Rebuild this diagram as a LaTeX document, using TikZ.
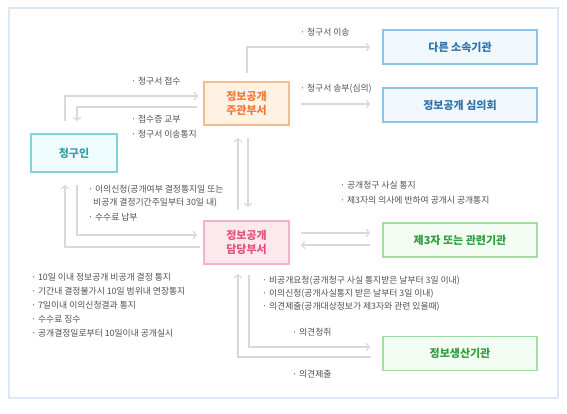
\documentclass[tikz,border=0pt]{standalone}
\usepackage{fontspec}
\setmainfont{Noto Sans CJK KR}
\usetikzlibrary{arrows.meta}
\definecolor{lineg}{HTML}{D9D9D9}
\definecolor{txtg}{HTML}{505050}
\definecolor{frameb}{HTML}{DCE8F5}
\definecolor{cyanB}{HTML}{7FD4DC}\definecolor{cyanF}{HTML}{EFFCFD}\definecolor{cyanT}{HTML}{3A9EAA}
\definecolor{orB}{HTML}{F5BB8E}\definecolor{orF}{HTML}{FFF2E3}\definecolor{orT}{HTML}{EE7A3E}
\definecolor{blB}{HTML}{8CC4E8}\definecolor{blF}{HTML}{F0F8FE}\definecolor{blT}{HTML}{2F72AA}
\definecolor{pkB}{HTML}{F7B2C4}\definecolor{pkF}{HTML}{FDE8EE}\definecolor{pkT}{HTML}{E8507C}
\definecolor{grB}{HTML}{A2E0A2}\definecolor{grF}{HTML}{F4FDF4}\definecolor{grT}{HTML}{2E9E3E}
\tikzset{
  box/.style={draw, line width=1.1pt, minimum width=#1, inner sep=0pt, align=center,
    font=\fontsize{11}{14}\selectfont\bfseries},
  cyanbox/.style={box=86pt, minimum height=38pt, draw=cyanB, fill=cyanF, text=cyanT},
  orbox/.style={box=85pt, minimum height=43pt, draw=orB, fill=orF, text=orT},
  pkbox/.style={box=85pt, minimum height=43pt, draw=pkB, fill=pkF, text=pkT},
  blbox/.style={box=154pt, minimum height=34pt, draw=blB, fill=blF, text=blT},
  grbox/.style={box=154pt, minimum height=34pt, draw=grB, fill=grF, text=grT},
  lbl/.style={anchor=west, inner sep=0pt, text=txtg, font=\fontsize{8.8}{10}\selectfont},
  conn/.style={draw=lineg, line width=1.4pt},
  arr/.style={conn, -{Straight Barb[length=3pt,width=7.5pt,line width=1.2pt]}},
}
\begin{document}
\begin{tikzpicture}[x=1pt,y=-1pt]
\useasboundingbox (0,0) rectangle (567,413);
\fill[white] (0,0) rectangle (567,413);
\draw[frameb, line width=2.4pt] (9,8) rectangle (558,398);

% boxes
\node[cyanbox] (req) at (74,153) {청구인};
\node[orbox] (main) at (246.5,103.5) {정보공개\\주관부서};
\node[blbox] (other) at (460,47) {다른 소속기관};
\node[blbox] (comm) at (460,105) {정보공개 심의회};
\node[pkbox] (resp) at (246.5,242.5) {정보공개\\담당부서};
\node[grbox] (third) at (460,240) {제3자 또는 관련기관};
\node[grbox] (prod) at (460,353.5) {정보생산기관};

% coordinates
\coordinate (a1) at (65,121); \coordinate (a2) at (198,96);
\coordinate (b1) at (197,107); \coordinate (b2) at (77,121);
\coordinate (c1) at (247,73); \coordinate (c2) at (370,47);
\coordinate (d1) at (301,104); \coordinate (d2) at (370,104);
\coordinate (e1) at (238,210); \coordinate (e2) at (238,138);
\coordinate (f1) at (248,138); \coordinate (f2) at (248,207);
\coordinate (g1) at (77,185); \coordinate (g2) at (197,235);
\coordinate (h1) at (200,247); \coordinate (h2) at (65,185);
\coordinate (i1) at (301,233); \coordinate (i2) at (370,233);
\coordinate (j1) at (370,245); \coordinate (j2) at (301,245);
\coordinate (k1) at (249,275); \coordinate (k2) at (370,347);
\coordinate (m1) at (371,357); \coordinate (m2) at (238,274);

% connectors
\draw[arr] (a1) |- (a2);
\draw[arr] (b1) -| (b2);
\draw[arr] (c1) |- (c2);
\draw[arr] (d1) -- (d2);
\draw[arr] (e1) -- (e2);
\draw[arr] (f1) -- (f2);
\draw[arr] (g1) |- (g2);
\draw[arr] (h1) -| (h2);
\draw[arr] (i1) -- (i2);
\draw[arr] (j1) -- (j2);
\draw[arr] (k1) |- (k2);
\draw[arr] (m1) -| (m2);

% labels
\node[lbl] (l1) at (131,81) {· 청구서 접수};
\node[lbl] (l2) at (131,119) {· 접수증 교부};
\node[lbl] (l3) at (131,134) {· 청구서 이송통지};
\node[lbl] (l4) at (300,32) {· 청구서 이송};
\node[lbl] (l5) at (300,89) {· 청구서 송부(심의)};
\node[lbl] (l6) at (88,190) {· 이의신청(공개여부 결정통지일 또는};
\node[lbl] (l7) at (93,203) {비공개 결정기간주일부터 30일 내)};
\node[lbl] (l8) at (88,217) {· 수수료 납부};
\node[lbl] (l9) at (340,185) {· 공개청구 사실 통지};
\node[lbl] (l10) at (340,200) {· 제3자의 의사에 반하여 공개시 공개통지};
\node[lbl] (n1) at (31,277) {· 10일 이내 정보공개 비공개 결정 통지};
\node[lbl] (n2) at (31,291) {· 기간내 결정불가시 10일 범위내 연장통지};
\node[lbl] (n3) at (31,305) {· 7일이내 이의신청결과 통지};
\node[lbl] (n4) at (31,319) {· 수수료 징수};
\node[lbl] (n5) at (31,333) {· 공개결정일로부터 10일이내 공개실시};
\node[lbl] (p1) at (262,281) {· 비공개요청(공개청구 사실 통지받은 날부터 3일 이내)};
\node[lbl] (p2) at (262,294) {· 이의신청(공개사실통지 받은 날부터 3일 이내)};
\node[lbl] (p3) at (262,307) {· 의견제출(공개대상정보가 제3자와 관련 있을때)};
\node[lbl] (q1) at (292,332) {· 의견청취};
\node[lbl] (q2) at (292,374) {· 의견제출};
\end{tikzpicture}
\end{document}
